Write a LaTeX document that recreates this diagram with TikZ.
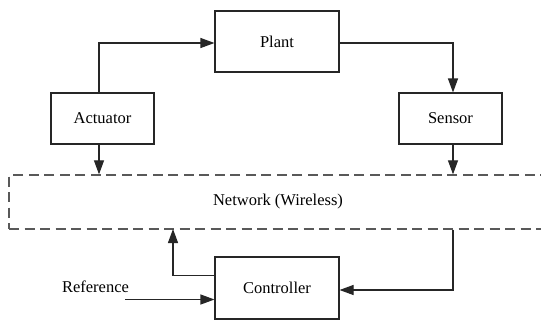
\documentclass[tikz,border=0pt]{standalone}
\usepackage{fontspec}
\setmainfont{Liberation Serif}
\usetikzlibrary{arrows.meta,calc}
\begin{document}
\begin{tikzpicture}[x=1pt,y=-1pt,
  blk/.style={draw=black!85,line width=1.1pt,rectangle,inner sep=0pt,font=\fontsize{16.5}{19}\selectfont},
  net/.style={draw=black!65,line width=1.3pt,dash pattern=on 10pt off 5.5pt,rectangle,inner sep=0pt,font=\fontsize{16.5}{19}\selectfont},
  conn/.style={draw=black!85,line width=1.1pt,-{Triangle[length=14pt,width=10pt]}},
  lbl/.style={font=\fontsize{16.5}{19}\selectfont,inner sep=0pt}]
\clip (0,0) rectangle (541,322);
\fill[white] (0,0) rectangle (541,322);
\node[blk,minimum width=124pt,minimum height=61pt] (plant) at (277,41.5) {Plant};
\node[blk,minimum width=103pt,minimum height=51pt] (actuator) at (102.5,118.5) {Actuator};
\node[blk,minimum width=103pt,minimum height=51pt] (sensor) at (450.5,118.5) {Sensor};
\node[net,minimum width=538pt,minimum height=54pt] (network) at (278,202) {Network (Wireless)};
\node[blk,minimum width=124pt,minimum height=62pt] (controller) at (277,288) {Controller};
\node[lbl] (reference) at (95.5,287) {Reference};
\coordinate (refstart) at (125,299.5);
\coordinate (nin) at (173,229);
\draw[conn] ([xshift=-3.5pt]actuator.north) |- ([yshift=-1.5pt]plant.west);
\draw[conn] ([yshift=-1.5pt]plant.east) -| ([xshift=2.5pt]sensor.north);
\draw[conn] ([xshift=-3.5pt]actuator.south) -- ([xshift=-3.5pt]actuator.south |- network.north);
\draw[conn] ([xshift=2.5pt]sensor.south) -- ([xshift=2.5pt]sensor.south |- network.north);
\draw[conn] ([xshift=2.5pt]sensor.south |- network.south) |- ([yshift=-2pt]controller.east);
\draw[conn] ([yshift=12.3pt]controller.west) -| (nin);
\draw[conn] (refstart) -- (refstart -| controller.west);
\end{tikzpicture}
\end{document}
